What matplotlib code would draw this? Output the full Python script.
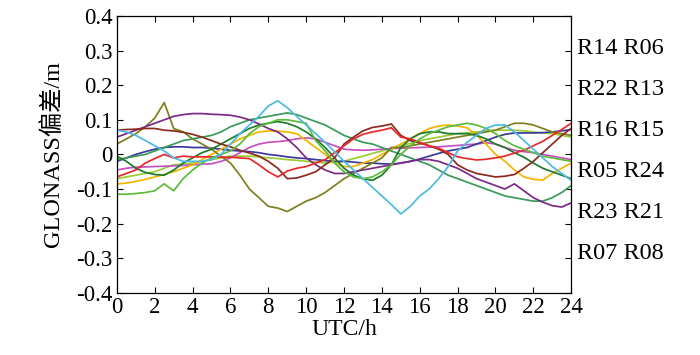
import matplotlib
matplotlib.use("Agg")
import matplotlib.pyplot as plt
import numpy as np

plt.rcParams['font.family'] = ['Liberation Serif', 'Noto Sans CJK SC']

hours = np.arange(0, 24.5, 0.5)

# satellite bias series, every half hour
cyan = [0.07, 0.065, 0.055, 0.04, 0.025, 0.01,
        -0.01, -0.02, -0.02, -0.02, -0.015, 0.0,
        0.03, 0.06, 0.085, 0.11, 0.14, 0.155,
        0.135, 0.11, 0.085, 0.06, 0.035, 0.008,
        -0.02, -0.045, -0.07, -0.095, -0.12, -0.145,
        -0.172, -0.15, -0.12, -0.1, -0.07, -0.035,
        0.01, 0.035, 0.055, 0.075, 0.085, 0.085,
        0.065, 0.04, 0.015, -0.01, -0.035, -0.055,
        -0.075]
olive = [0.03, 0.045, 0.06, 0.08, 0.105, 0.15,
         0.075, 0.065, 0.045, 0.03, 0.015, -0.005,
         -0.025, -0.06, -0.1, -0.125, -0.15, -0.155,
         -0.165, -0.15, -0.135, -0.125, -0.11, -0.09,
         -0.07, -0.055, -0.04, -0.025, -0.01, 0.02,
         0.02, 0.025, 0.03, 0.035, 0.04, 0.045,
         0.05, 0.055, 0.06, 0.065, 0.07, 0.08,
         0.09, 0.09, 0.085, 0.075, 0.065, 0.06,
         0.055]
brown = [0.07, 0.072, 0.073, 0.075, 0.075, 0.07,
         0.068, 0.064, 0.058, 0.05, 0.04, 0.03,
         0.022, 0.012, 0.004, -0.005, -0.02, -0.04,
         -0.07, -0.068, -0.06, -0.05, -0.03, -0.01,
         0.03, 0.05, 0.068, 0.078, 0.082, 0.088,
         0.055, 0.04, 0.033, 0.025, 0.015, 0.0,
         -0.03, -0.045, -0.055, -0.06, -0.065, -0.063,
         -0.058, -0.04, -0.02, 0.005, 0.03, 0.055,
         0.075]
red = [-0.065, -0.055, -0.045, -0.025, -0.012, 0.0,
       -0.01, -0.005, -0.007, -0.007, -0.007, -0.008,
       -0.008, -0.01, -0.012, -0.03, -0.05, -0.065,
       -0.048, -0.04, -0.035, -0.025, -0.015, 0.005,
       0.025, 0.045, 0.058, 0.065, 0.07, 0.077,
       0.05, 0.045, 0.035, 0.025, 0.018, 0.005,
       -0.007, -0.012, -0.016, -0.014, -0.01, -0.005,
       0.004, 0.012, 0.025, 0.038, 0.055, 0.072,
       0.09]
purple = [0.05, 0.06, 0.07, 0.08, 0.09, 0.1,
          0.11, 0.115, 0.118, 0.118, 0.116, 0.115,
          0.113, 0.108, 0.1, 0.088, 0.075, 0.065,
          0.045, 0.02, -0.01, -0.03, -0.045, -0.055,
          -0.055, -0.05, -0.045, -0.04, -0.035, -0.03,
          -0.025, -0.02, -0.015, -0.015, -0.02, -0.03,
          -0.04, -0.055, -0.07, -0.08, -0.09, -0.1,
          -0.085, -0.105, -0.125, -0.138, -0.148, -0.152,
          -0.14]
magenta = [-0.045, -0.04, -0.037, -0.036, -0.035, -0.034,
           -0.033, -0.032, -0.03, -0.028, -0.027, -0.02,
           -0.01, 0.005, 0.02, 0.03, 0.035, 0.037,
           0.04, 0.045, 0.048, 0.045, 0.035, 0.025,
           0.015, 0.013, 0.012, 0.013, 0.015, 0.017,
           0.018, 0.019, 0.02, 0.021, 0.022, 0.024,
           0.026, 0.028, 0.03, 0.034, 0.03, 0.02,
           0.012, 0.008, 0.005, 0.0, -0.005, -0.01,
           -0.015]
blue = [-0.02, -0.01, 0.0, 0.008, 0.015, 0.02,
        0.022, 0.022, 0.02, 0.02, 0.018, 0.015,
        0.012, 0.01, 0.008, 0.005, 0.0, -0.003,
        -0.007, -0.01, -0.012, -0.015, -0.018, -0.02,
        -0.02, -0.022, -0.025, -0.025, -0.027, -0.028,
        -0.025, -0.02, -0.013, -0.005, 0.003, 0.01,
        0.015, 0.02, 0.03, 0.04, 0.05, 0.058,
        0.062, 0.062, 0.062, 0.063, 0.065, 0.068,
        0.072]
orange = [-0.085, -0.083, -0.078, -0.072, -0.065, -0.058,
          -0.05, -0.04, -0.03, -0.015, 0.0, 0.015,
          0.03, 0.045, 0.055, 0.065, 0.068, 0.067,
          0.065, 0.06, 0.04, 0.02, 0.0, -0.025,
          -0.035, -0.035, -0.025, -0.015, 0.0, 0.015,
          0.03, 0.045, 0.06, 0.075, 0.082, 0.085,
          0.082, 0.077, 0.055, 0.03, 0.0, -0.02,
          -0.045, -0.065, -0.072, -0.074, -0.055, -0.04,
          -0.025]
dark_green = [-0.005, -0.02, -0.04, -0.052, -0.058, -0.06,
              -0.045, -0.025, -0.01, 0.005, 0.015, 0.03,
              0.045, 0.06, 0.075, 0.085, 0.09, 0.095,
              0.09, 0.08, 0.065, 0.045, 0.02, -0.01,
              -0.04, -0.06, -0.07, -0.075, -0.06, -0.03,
              0.02, 0.045, 0.06, 0.065, 0.065, 0.06,
              0.06, 0.06, 0.055, 0.045, 0.03, 0.02,
              0.005, -0.008, -0.025, -0.04, -0.05, -0.06,
              -0.07]
sea_green = [-0.015, -0.01, -0.005, 0.0, 0.01, 0.02,
             0.03, 0.04, 0.045, 0.05, 0.055, 0.065,
             0.08, 0.09, 0.1, 0.105, 0.11, 0.115,
             0.12, 0.115, 0.105, 0.095, 0.085, 0.07,
             0.055, 0.045, 0.035, 0.03, 0.02, 0.01,
             0.0, -0.01, -0.02, -0.03, -0.045, -0.06,
             -0.07, -0.08, -0.09, -0.1, -0.11, -0.12,
             -0.125, -0.13, -0.135, -0.135, -0.125, -0.11,
             -0.09]
green = [-0.115, -0.115, -0.113, -0.11, -0.105, -0.085,
         -0.105, -0.07, -0.045, -0.025, -0.01, 0.0,
         0.01, 0.03, 0.06, 0.08, 0.09, 0.1,
         0.1, 0.095, 0.09, 0.04, 0.01, -0.025,
         -0.05, -0.065, -0.07, -0.065, -0.05, -0.03,
         0.0, 0.025, 0.045, 0.06, 0.07, 0.08,
         0.085, 0.09, 0.085, 0.075, 0.06, 0.04,
         0.025, 0.015, 0.005, -0.005, -0.01, -0.015,
         -0.02]
yellow_green = [-0.07, -0.065, -0.06, -0.055, -0.05, -0.04,
                -0.03, -0.028, -0.025, -0.02, -0.015, -0.01,
                -0.005, -0.005, -0.005, -0.007, -0.01, -0.012,
                -0.015, -0.017, -0.02, -0.022, -0.025, -0.022,
                -0.02, -0.012, -0.005, 0.003, 0.01, 0.018,
                0.025, 0.032, 0.04, 0.045, 0.05, 0.055,
                0.06, 0.062, 0.065, 0.068, 0.07, 0.07,
                0.07, 0.068, 0.065, 0.062, 0.06, 0.055,
                0.05]

series = [
    (yellow_green, '#9ACD32'),
    (magenta, '#C84FC0'),
    (blue, '#3A3A9E'),
    (orange, '#F4B400'),
    (olive, '#7F7F1E'),
    (sea_green, '#3A9A5A'),
    (dark_green, '#1E7B2E'),
    (purple, '#7B2A86'),
    (brown, '#8B2A1E'),
    (red, '#E8282A'),
    (green, '#5DBB3C'),
    (cyan, '#4DB9E4'),
]

sat_labels = ["R14 R06", "R22 R13", "R16 R15", "R05 R24", "R23 R21", "R07 R08"]
yticks = [0.4, 0.3, 0.2, 0.1, 0, -0.1, -0.2, -0.3, -0.4]
ytick_labels = ["0.4", "0.3", "0.2", "0.1", "0", "-0.1", "-0.2", "-0.3", "-0.4"]
xticks = list(range(0, 25, 2))

fig = plt.figure(figsize=(7, 3.55), dpi=100)
ax = fig.add_axes([0.167, 0.175, 0.649, 0.78])

for vals, col in series:
    ax.plot(hours, vals, color=col, lw=1.25)

ax.set_xlim(0, 24)
ax.set_ylim(-0.4, 0.4)
ax.set_xticks(xticks)
ax.set_xticklabels([str(x) for x in xticks])
ax.set_yticks(yticks)
ax.set_yticklabels(ytick_labels)
ax.tick_params(direction='in', top=True, right=True, length=4, width=0.8,
               labelsize=16.5, pad=3)
for sp in ax.spines.values():
    sp.set_linewidth(0.9)

ax.set_xlabel("UTC/h", fontsize=17, labelpad=1)
ax.set_ylabel("GLONASS偏差/m", fontsize=17.5, labelpad=9)

for i, lab in enumerate(sat_labels):
    ax.text(1.013, 0.881 - i * 0.1474, lab, transform=ax.transAxes,
            fontsize=17.5, va='center', ha='left')

fig.savefig("out.png", dpi=100)
